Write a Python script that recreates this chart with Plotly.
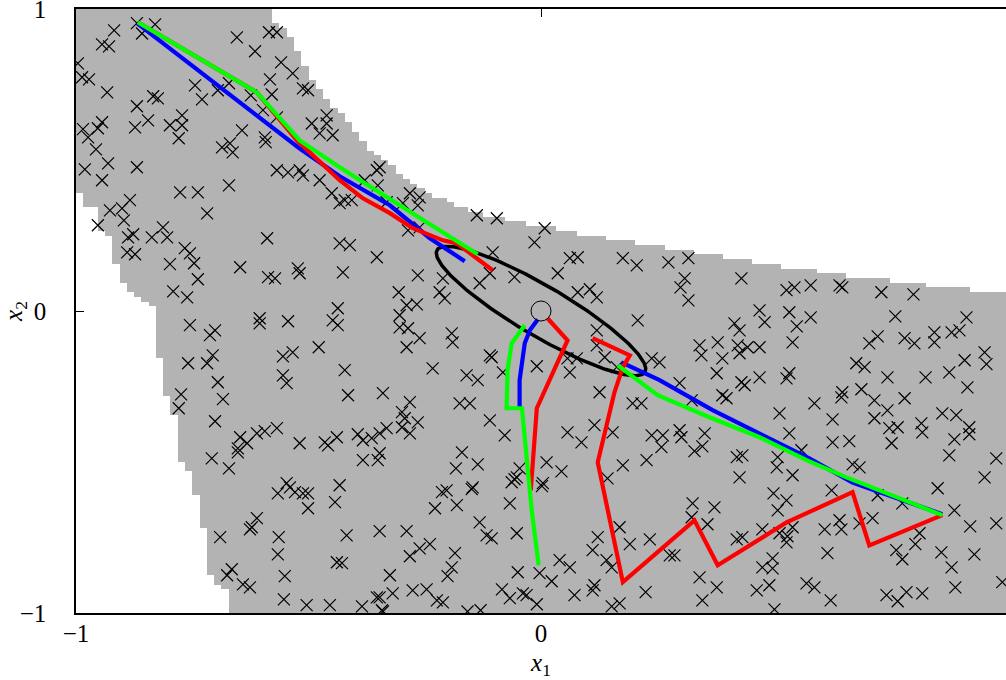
import numpy as np
import plotly.graph_objects as go

# ---------------- data ----------------
# gray region: rasterised on a 128 x 128 grid over [-1,1]^2
grid_n = 128
# upper boundary: from column index onward, number of rows removed from top
top_cut_cols = [0, 27, 28, 29, 30, 31, 32, 33, 34, 35, 36, 37, 38, 39, 40, 41, 42, 43, 44, 45, 46, 47, 48, 49,
                51, 52, 54, 56, 59, 62, 66, 69, 73, 77, 81, 85, 89, 93, 97, 102, 106, 112, 117, 123]
top_cut_rows = [0, 3, 4, 6, 9, 12, 15, 17, 19, 21, 22, 24, 26, 28, 30, 31, 32, 33, 35, 36, 37, 38, 39, 40,
                41, 42, 43, 44, 45, 46, 47, 48, 49, 50, 51, 52, 53, 54, 55, 56, 57, 58, 59, 60]
# left boundary: from row index (counted from top) onward, first gray column
left_cut_rows = [0, 39, 42, 47, 48, 54, 58, 60, 61, 62, 63, 74, 82, 86, 96, 98, 103, 110, 120, 122, 123]
left_cut_cols = [0, 1, 3, 4, 5, 6, 7, 8, 9, 10, 11, 12, 13, 14, 15, 16, 17, 18, 19, 20, 21]

samples_x1 = [
    -0.869, -0.830, -0.918, -0.944, -0.929, -0.996, -0.987, -0.972, -0.933, -0.834, -0.824, -0.869, -0.845, -0.873,
    -0.798, -0.772, -0.772, -0.779, -0.985, -0.974, -0.953, -0.944, -0.957, -0.981, -0.931, -0.944, -0.869, -0.776,
    -0.738, -0.718, -0.671, -0.686, -0.663, -0.669, -0.643, -0.744, -0.729, -0.695, -0.671, -0.654, -0.615, -0.927,
    -0.901, -0.884, -0.897, -0.953, -0.858, -0.624, -0.813,
    -0.585, -0.568, -0.559, -0.534, -0.583, -0.579, -0.512, -0.501, -0.598, -0.568, -0.493, -0.461, -0.461, -0.476,
    -0.448, -0.594, -0.592, -0.568, -0.544, -0.519, -0.512, -0.476, -0.450, -0.379, -0.353, -0.347, -0.351, -0.282,
    -0.261, -0.433, -0.422, -0.407, -0.332, -0.265, -0.297, -0.261,
    -0.138, -0.095, 0.008,
    -0.888, -0.877, -0.837, -0.804, -0.890, -0.873, -0.766, -0.755, -0.798, -0.746, -0.738, -0.791, -0.761, -0.647,
    -0.589, -0.587, -0.572, -0.523, -0.519, -0.755, -0.712, -0.701, -0.605, -0.605, -0.544, -0.759, -0.718, -0.706,
    -0.555, -0.534, -0.478, -0.695, -0.555, -0.547, -0.684, -0.774, -0.779, -0.701, -0.647, -0.632, -0.652, -0.611,
    -0.594, -0.568, -0.519, -0.465, -0.458,
    -0.433, -0.411, -0.353, -0.426, -0.265, -0.211, -0.207, -0.218, -0.306, -0.289, -0.267, -0.304, -0.437, -0.448,
    -0.437, -0.304, -0.286, -0.261, -0.289, -0.192, -0.190, -0.132, -0.110, -0.057, -0.104, -0.014, 0.036, 0.062,
    0.079, 0.079, 0.105, 0.120, 0.176, 0.206, 0.208, 0.120, 0.120, 0.137, 0.163, 0.238, 0.057, 0.077, -0.110,
    -0.106, -0.009, 0.062, -0.082, -0.160, -0.136, -0.233, -0.422, -0.415, -0.340, -0.282, -0.299, -0.293, -0.265,
    -0.299, -0.282, -0.332, -0.347, -0.364, -0.383, -0.394, -0.439, -0.175, -0.153, -0.110, -0.078, 0.057, 0.087,
    0.115, 0.154, 0.126, 0.197, 0.216, 0.238, -0.286,
    0.274, 0.317, 0.309, 0.300, 0.317, 0.431, 0.528, 0.545, 0.580, 0.642, 0.648, 0.732, 0.801, 0.470, 0.481, 0.416,
    0.427, 0.534, 0.550, 0.580, 0.541, 0.341, 0.345, 0.380, 0.390, 0.423, 0.444, 0.470, 0.427, 0.378, 0.431, 0.438,
    0.470, 0.534, 0.528, 0.390, 0.399, 0.298, 0.324, 0.255, 0.762, 0.724, 0.706, 0.782, 0.803, 0.846, 0.846, 0.883,
    0.900, 0.915, 0.954, 0.958, 0.911, 0.678, 0.696, 0.745, 0.827, 0.878, 0.917, 0.689, 0.717, 0.648, 0.646, 0.782,
    0.588, 0.627, 0.717, 0.745, 0.749, 0.767, 0.818, 0.820, 0.863, 0.893, 0.921, 0.921, 0.889, 0.513, 0.534, 0.627,
    0.663, 0.754, 0.262, 0.298, 0.302, 0.352, 0.347, 0.259,
    -0.708, -0.652, -0.671, -0.547, -0.540, -0.566, -0.529, -0.512, -0.501, -0.501, -0.611, -0.622, -0.626, -0.690,
    -0.564, -0.566, -0.665, -0.675, -0.641, -0.626, -0.551, -0.553, -0.504, -0.454,
    -0.383, -0.351, -0.347, -0.170, -0.183, -0.136, -0.433, -0.443, -0.213, -0.203, -0.149, -0.147, -0.228, -0.181,
    -0.067, -0.057, -0.052, -0.063, -0.046, 0.012, 0.044, 0.002, 0.004, -0.132, -0.117, -0.106, -0.052, -0.418,
    -0.347, -0.289, -0.282, -0.261, -0.239, -0.185, -0.192, -0.201, -0.439, -0.428, -0.325, -0.319, -0.353, -0.347,
    -0.385, -0.342, -0.340, -0.276, -0.246, -0.224, -0.211, -0.158, -0.130, -0.084, -0.067, -0.039, -0.031, -0.050,
    -0.003, 0.023, -0.009, 0.040, 0.062, 0.072, 0.115, 0.111, 0.169, 0.122, 0.111, 0.141, 0.152, 0.191, 0.234,
    0.225, 0.152, 0.169, 0.176, 0.227, 0.143,
    0.326, 0.373, 0.324, 0.358, 0.277, 0.287, 0.421, 0.433, 0.476, 0.513, 0.530, 0.528, 0.541, 0.509, 0.528, 0.500,
    0.427, 0.421, 0.433, 0.507, 0.509, 0.541, 0.476, 0.498, 0.498, 0.341, 0.378, 0.347, 0.464, 0.491, 0.502, 0.571,
    0.588, 0.623, 0.616, 0.610, 0.642, 0.646, 0.685, 0.713, 0.625, 0.670, 0.685, 0.724, 0.764, 0.777, 0.805, 0.814,
    0.777, 0.743, 0.767, 0.786, 0.820, 0.861, 0.883, 0.891, 0.853, 0.889, 0.923, 0.932, 0.979, 0.954, 0.979, 0.992,
    0.878, 0.330, 0.560,
]
samples_x2 = [
    0.953, 0.949, 0.929, 0.883, 0.876, 0.820, 0.774, 0.767, 0.724, 0.711, 0.704, 0.678, 0.631, 0.608,
    0.615, 0.648, 0.615, 0.572, 0.602, 0.575, 0.605, 0.625, 0.535, 0.469, 0.489, 0.433, 0.476, 0.393,
    0.393, 0.323, 0.416, 0.542, 0.525, 0.555, 0.598, 0.747, 0.701, 0.731, 0.754, 0.906, 0.860, 0.333,
    0.340, 0.367, 0.300, 0.284, 0.919, 0.714, 0.277,
    0.923, 0.923, 0.823, 0.787, 0.767, 0.717, 0.737, 0.731, 0.665, 0.641, 0.621, 0.648, 0.621, 0.588,
    0.582, 0.575, 0.559, 0.466, 0.459, 0.466, 0.449, 0.433, 0.390, 0.433, 0.466, 0.476, 0.416, 0.390,
    0.376, 0.357, 0.367, 0.367, 0.360, 0.350, 0.357, 0.277,
    0.317, 0.307, 0.274,
    0.244, 0.254, 0.244, 0.244, 0.194, 0.188, 0.208, 0.191, 0.155, 0.158, 0.105, 0.065, 0.045, 0.145,
    0.241, 0.112, 0.108, 0.141, 0.125, -0.047, -0.080, -0.064, -0.024, -0.041, -0.034, -0.173, -0.173, -0.147,
    -0.150, -0.137, -0.120, -0.236, -0.213, -0.239, -0.292, -0.276, -0.322, -0.365, -0.418, -0.438, -0.455, -0.405,
    -0.398, -0.388, -0.438, -0.435, -0.445,
    0.224, 0.218, 0.178, 0.128, 0.118, 0.108, 0.042, 0.062, 0.062, 0.019, 0.022, -0.014, 0.009, -0.031,
    -0.047, -0.054, -0.057, -0.090, -0.120, -0.074, -0.104, 0.092, 0.125, 0.112, 0.194, 0.227, 0.125, 0.175,
    0.178, 0.062, 0.072, 0.045, 0.175, 0.151, -0.031, -0.064, -0.114, -0.153, -0.186, -0.157, -0.157, -0.157, -0.147,
    -0.153, -0.183, -0.203, -0.203, -0.213, -0.229, -0.190, -0.196, -0.279, -0.272, -0.302, -0.335, -0.355, -0.369,
    -0.385, -0.405, -0.388, -0.405, -0.421, -0.428, -0.408, -0.418, -0.306, -0.306, -0.362, -0.412, -0.402, -0.435,
    -0.378, -0.402, -0.269, -0.306, -0.306, -0.412, 0.267,
    0.161, 0.175, 0.108, 0.078, 0.035, 0.108, 0.069, 0.078, 0.085, 0.085, 0.078, 0.062, 0.055, 0.002, -0.037, -0.041,
    -0.064, -0.004, -0.051, -0.021, -0.104, -0.114, -0.147, -0.104, -0.157, -0.114, -0.120, -0.120, -0.140, -0.206,
    -0.236, -0.246,
    -0.220, -0.206, -0.223, -0.279, -0.289, -0.239, -0.296, -0.170, -0.018, -0.084, -0.107, -0.090, -0.107, -0.071,
    -0.104, -0.071,
    -0.064, -0.021, -0.137, -0.176, -0.163, -0.173, -0.186, -0.220, -0.220, -0.203, -0.253, -0.259, -0.296, -0.269,
    -0.286, -0.289,
    -0.306, -0.359, -0.355, -0.329, -0.388, -0.385, -0.372, -0.402, -0.339, -0.345, -0.385, -0.408, -0.425, -0.339,
    -0.405, -0.435,
    -0.431, -0.438, -0.412, -0.395, -0.418, -0.405, -0.448, -0.451,
    -0.488, -0.468, -0.521, -0.570, -0.584, -0.604, -0.600, -0.604, -0.604, -0.653, -0.686, -0.716, -0.723, -0.749,
    -0.749, -0.806, -0.855, -0.875, -0.905, -0.915, -0.878, -0.955, -0.974, -0.974,
    -0.494, -0.494, -0.471, -0.468, -0.521, -0.508, -0.577, -0.633, -0.600, -0.594, -0.590, -0.584, -0.653, -0.643,
    -0.637, -0.557, -0.551, -0.567, -0.521, -0.501, -0.531, -0.580, -0.570, -0.700, -0.743, -0.753, -0.736, -0.743,
    -0.729, -0.729, -0.812, -0.786, -0.772, -0.802, -0.849, -0.878, -0.832, -0.835, -0.875, -0.935, -0.948, -0.948,
    -0.978, -0.991, -0.995, -0.925, -0.922, -0.958, -0.965, -0.995, -0.991, -0.922, -0.951, -0.935, -0.941, -0.865,
    -0.868, -0.895, -0.971, -0.825, -0.849, -0.941, -0.908, -0.925, -0.716, -0.749, -0.792, -0.825, -0.849, -0.772,
    -0.756, -0.931, -0.978, -0.968, -0.511, -0.494, -0.554,
    -0.637, -0.650, -0.683, -0.706, -0.809, -0.809, -0.756, -0.749, -0.723, -0.736, -0.746, -0.766, -0.716, -0.660,
    -0.627, -0.604, -0.551, -0.484, -0.478, -0.518, -0.484, -0.544, -0.849, -0.819, -0.852, -0.882, -0.915, -0.958,
    -0.925, -0.908, -0.988, -0.902, -0.915, -0.958, -0.802, -0.723, -0.693, -0.723, -0.703, -0.686, -0.594, -0.508,
    -0.518, -0.610, -0.792, -0.822, -0.772, -0.736, -0.637, -0.941, -0.961, -0.931, -0.935, -0.799, -0.849, -0.915,
    -0.587, -0.660, -0.713, -0.806, -0.703, -0.551, -0.488, -0.898, -0.478, -0.464, -0.461,
]

# trajectories (x1, x2)
blue_paths = [
    ([-0.869, -0.519, -0.433, -0.325, -0.239, -0.164], [0.953, 0.538, 0.446, 0.350, 0.241, 0.165]),
    ([-0.007, -0.024, -0.035, -0.041, -0.046, -0.046], [-0.028, -0.064, -0.107, -0.173, -0.229, -0.319]),
    ([0.173, 0.255, 0.369, 0.470, 0.577, 0.670, 0.863], [-0.170, -0.229, -0.328, -0.405, -0.488, -0.568, -0.673]),
]
red_paths = [
    ([-0.867, -0.611, -0.525, -0.433, -0.383, -0.325, -0.276, -0.211, -0.181, -0.104],
     [0.956, 0.724, 0.565, 0.433, 0.373, 0.324, 0.274, 0.234, 0.224, 0.135]),
    ([0.014, 0.057, -0.009, -0.022], [-0.024, -0.097, -0.322, -0.594]),
    ([0.111, 0.191, 0.176, 0.158, 0.122, 0.176, 0.330, 0.380, 0.528, 0.670, 0.706, 0.863],
     [-0.090, -0.147, -0.186, -0.269, -0.501, -0.898, -0.693, -0.842, -0.700, -0.600, -0.776, -0.676]),
]
green_paths = [
    ([-0.867, -0.611, -0.519, -0.433, -0.304, -0.218, -0.136], [0.956, 0.724, 0.565, 0.476, 0.350, 0.267, 0.188]),
    ([-0.035, -0.063, -0.072, -0.074, -0.041, -0.020, -0.005], [-0.047, -0.107, -0.196, -0.322, -0.322, -0.660, -0.842]),
    ([0.165, 0.251, 0.362, 0.470, 0.571, 0.657, 0.863], [-0.180, -0.279, -0.352, -0.418, -0.494, -0.551, -0.676]),
]

ellipse_center = [0.0, 0.0]
ellipse_major = [0.2235, -0.202]
ellipse_minor = [0.027, 0.0715]
origin_point = [0.0, 0.0]

x_ticks = [-1, 0, 1]
y_ticks = [-1, 0, 1]
x_tick_text = ["\u22121", "0", ""]
y_tick_text = ["\u22121", "0", "1"]

# ---------------- build figure ----------------
top_cut = np.zeros(grid_n, dtype=int)
for c0, r in zip(top_cut_cols, top_cut_rows):
    top_cut[c0:] = r
left_cut = np.zeros(grid_n, dtype=int)
for r0, c in zip(left_cut_rows, left_cut_cols):
    left_cut[r0:] = c

cell = 2.0 / grid_n
xc = -1 + (np.arange(grid_n) + 0.5) * cell
yc = 1 - (np.arange(grid_n) + 0.5) * cell  # row 0 at top
z = np.full((grid_n, grid_n), np.nan)
for j in range(grid_n):
    for i in range(grid_n):
        if j >= top_cut[i] and i >= left_cut[j]:
            z[j, i] = 1.0

fig = go.Figure()
fig.add_trace(go.Heatmap(x=xc, y=yc, z=z, colorscale=[[0, "#b3b3b3"], [1, "#b3b3b3"]],
                         zmin=0, zmax=1, showscale=False, hoverinfo="skip"))

fig.add_trace(go.Scatter(x=samples_x1, y=samples_x2, mode="markers",
                         marker=dict(symbol="x-thin", size=12, line=dict(width=1.2, color="black"), color="black"),
                         hoverinfo="skip"))

t = np.linspace(0, 2 * np.pi, 200)
ex = ellipse_center[0] + ellipse_major[0] * np.cos(t) + ellipse_minor[0] * np.sin(t)
ey = ellipse_center[1] + ellipse_major[1] * np.cos(t) + ellipse_minor[1] * np.sin(t)
fig.add_trace(go.Scatter(x=ex, y=ey, mode="lines", line=dict(color="black", width=3.5), hoverinfo="skip"))

for paths, col in ((blue_paths, "#0000ff"), (red_paths, "#ff0000"), (green_paths, "#00ff00")):
    for px, py in paths:
        fig.add_trace(go.Scatter(x=px, y=py, mode="lines", line=dict(color=col, width=4.2), hoverinfo="skip"))

fig.add_trace(go.Scatter(x=[origin_point[0]], y=[origin_point[1]], mode="markers",
                         marker=dict(symbol="circle-open", size=20, line=dict(width=1, color="black"), color="black"),
                         hoverinfo="skip"))

font_family = "Liberation Serif, DejaVu Serif, serif"
fig.update_layout(
    width=1006, height=680,
    margin=dict(l=76, r=0, t=9, b=67, autoexpand=False),
    paper_bgcolor="white", plot_bgcolor="white",
    showlegend=False,
    font=dict(family=font_family, size=25, color="black"),
)
fig.update_xaxes(range=[-1, 1], tickvals=x_ticks, ticktext=x_tick_text, ticks="inside", ticklen=8,
                 tickcolor="black", showline=True, linecolor="black", linewidth=1.5, mirror="allticks",
                 showgrid=False, zeroline=False, layer="below traces", ticklabelstandoff=-3,
                 ticklabeloverflow="allow", automargin=False,
                 title=dict(text="<i>x</i><sub>1</sub>", standoff=9, font=dict(size=25)))
fig.update_yaxes(range=[-1, 1], tickvals=y_ticks, ticktext=y_tick_text, ticks="inside", ticklen=8,
                 tickcolor="black", showline=True, linecolor="black", linewidth=1.5, mirror=False,
                 showgrid=False, zeroline=False, layer="below traces", ticklabelstandoff=23,
                 ticklabeloverflow="allow", automargin=False,
                 title=dict(text="<i>x</i><sub>2</sub>", standoff=16, font=dict(size=25)))

fig.write_html("out.html", config={"displayModeBar": False},
               post_script="document.body.style.margin='0';document.body.style.overflow='hidden';")
